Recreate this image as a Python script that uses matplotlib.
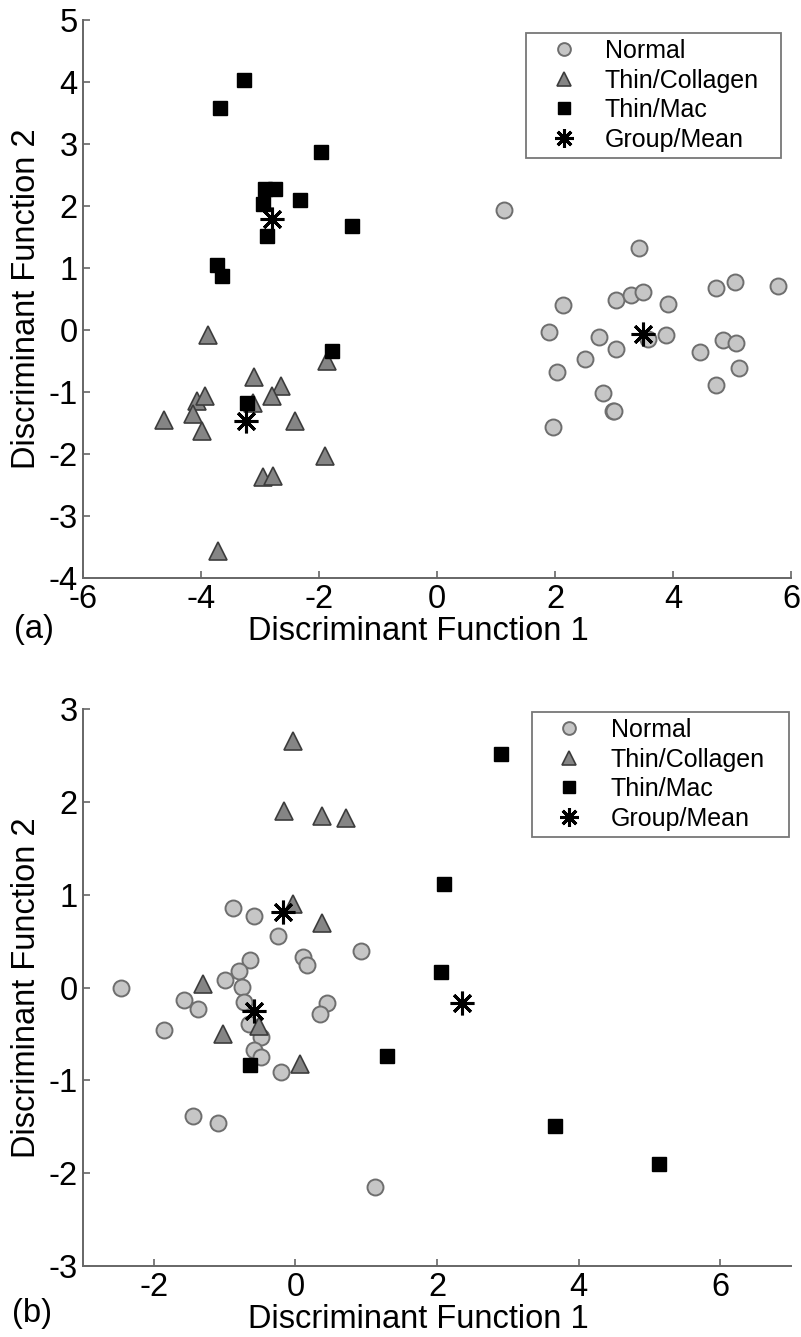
import matplotlib
matplotlib.use("Agg")
import matplotlib.pyplot as plt

plt.rcParams['font.family'] = ['Liberation Sans', 'DejaVu Sans']
plt.rcParams['axes.unicode_minus'] = False  # matlab style hyphen minus

# ---- panel (a) values ----
a_normal_x = [1.14, 3.42, 2.14, 3.03, 3.29, 3.49, 3.92, 4.73, 5.05, 5.78, 1.90, 2.75, 3.03,
              3.58, 3.88, 2.51, 4.46, 4.85, 5.07, 2.03, 5.12, 2.81, 4.73, 2.98, 3.00, 1.97]
a_normal_y = [1.94, 1.32, 0.41, 0.48, 0.56, 0.61, 0.42, 0.68, 0.77, 0.71, -0.03, -0.12, -0.31,
              -0.15, -0.08, -0.47, -0.36, -0.16, -0.21, -0.68, -0.62, -1.02, -0.89, -1.30, -1.31, -1.57]
a_coll_x = [-3.88, -1.86, -3.10, -2.64, -2.80, -4.07, -3.93, -3.12, -4.13, -4.63, -2.41, -3.98,
            -1.90, -2.95, -2.78, -3.71]
a_coll_y = [-0.08, -0.50, -0.76, -0.91, -1.07, -1.14, -1.06, -1.17, -1.36, -1.45, -1.47, -1.63,
            -2.03, -2.37, -2.35, -3.57]
a_mac_x = [-3.27, -3.68, -1.97, -2.92, -2.75, -2.95, -2.32, -2.88, -1.44, -3.73, -3.64, -1.78, -3.22]
a_mac_y = [4.03, 3.58, 2.87, 2.27, 2.27, 2.03, 2.10, 1.52, 1.67, 1.05, 0.87, -0.34, -1.17]
a_mean_x = [3.49, -3.24, -2.80]
a_mean_y = [-0.06, -1.46, 1.79]

# ---- panel (b) values ----
b_normal_x = [-0.88, -0.58, -0.25, 0.92, -0.64, 0.11, 0.17, -0.80, -0.99, -0.76, -2.46, -1.58, -1.38,
              -0.73, 0.45, 0.35, -0.65, -1.86, -0.49, -0.59, -0.49, -0.21, -1.44, -1.09, 1.12]
b_normal_y = [0.86, 0.77, 0.55, 0.39, 0.30, 0.33, 0.24, 0.18, 0.08, 0.01, 0.00, -0.13, -0.23,
              -0.16, -0.17, -0.29, -0.39, -0.46, -0.53, -0.67, -0.75, -0.91, -1.38, -1.46, -2.15]
b_coll_x = [-0.04, -0.16, 0.37, 0.72, -0.04, 0.38, -1.31, -1.02, -0.52, 0.07]
b_coll_y = [2.66, 1.90, 1.85, 1.83, 0.90, 0.70, 0.04, -0.50, -0.41, -0.82]
b_mac_x = [2.91, 2.10, 2.05, 1.30, 3.66, 5.13, -0.64]
b_mac_y = [2.52, 1.11, 0.17, -0.74, -1.49, -1.90, -0.84]
b_mean_x = [-0.59, -0.17, 2.36]
b_mean_y = [-0.25, 0.81, -0.17]

labels = ['Normal', 'Thin/Collagen', 'Thin/Mac', 'Group/Mean']

W, H = 801, 1337
FS = 23.5       # tick + axis label size
LEG_FS = 18
SPINE = '#666666'
STAR = (8, 2, 0)  # 8 armed asterisk like matlab '*'


def draw_panel(ax, nx, ny, cx, cy, mx, my, sx, sy):
    ax.plot(nx, ny, 'o', ms=11.5, mfc='#c6c6c6', mec='#6e6e6e', mew=1.4, ls='none', label=labels[0])
    ax.plot(cx, cy, '^', ms=13, mfc='#858585', mec='#3c3c3c', mew=1.2, ls='none', label=labels[1])
    ax.plot(mx, my, 's', ms=10.5, mfc='black', mec='black', ls='none', label=labels[2])
    ax.plot(sx, sy, marker=STAR, ms=17, mec='black', mew=2.2, ls='none', label=labels[3])

    for side in ['top', 'right']:
        ax.spines[side].set_visible(False)
    for side in ['left', 'bottom']:
        ax.spines[side].set_color(SPINE)
        ax.spines[side].set_linewidth(1.4)
    ax.tick_params(direction='in', length=5, width=1.2, color=SPINE, labelsize=FS, pad=4)
    ax.set_xlabel('Discriminant Function 1', fontsize=FS, va='baseline')
    ax.set_ylabel('Discriminant Function 2', fontsize=FS)


def main():
    fig = plt.figure(figsize=(W / 100, H / 100), dpi=100)

    # axes boxes in pixels: left 83, right 791
    ax_a = fig.add_axes([83 / W, (H - 578) / H, 708 / W, 558 / H])
    ax_b = fig.add_axes([83 / W, (H - 1266) / H, 708 / W, 557 / H])

    draw_panel(ax_a, a_normal_x, a_normal_y, a_coll_x, a_coll_y, a_mac_x, a_mac_y, a_mean_x, a_mean_y)
    ax_a.set_xlim(-6, 6)
    ax_a.set_ylim(-4, 5)
    ax_a.set_xticks(range(-6, 7, 2))
    ax_a.set_yticks(range(-4, 6))

    draw_panel(ax_b, b_normal_x, b_normal_y, b_coll_x, b_coll_y, b_mac_x, b_mac_y, b_mean_x, b_mean_y)
    ax_b.set_xlim(-3, 7)
    ax_b.set_ylim(-3, 3)
    ax_b.set_xticks(range(-2, 7, 2))
    ax_b.set_yticks(range(-3, 4))

    # legend boxes (x0, y0, w, h) in axes fraction
    leg_boxes = [(ax_a, (0.626, 0.760, 0.360, 0.217)), (ax_b, (0.634, 0.770, 0.363, 0.225))]
    for ax, box in leg_boxes:
        ax.xaxis.set_label_coords(0.473, -0.111)
        ax.yaxis.set_label_coords(-0.058, 0.5)
        leg = ax.legend(loc='upper left', bbox_to_anchor=box, mode='expand', fontsize=LEG_FS,
                        frameon=True, fancybox=False, edgecolor='#555555', borderaxespad=0,
                        labelspacing=0.22, handlelength=2.5, handletextpad=0.4, borderpad=0.25,
                        markerscale=0.8)
        leg.get_frame().set_linewidth(1.3)

    fig.text(14 / W, 1 - 638 / H, '(a)', fontsize=FS, va='baseline', ha='left')
    fig.text(12 / W, 1 - 1322 / H, '(b)', fontsize=FS, va='baseline', ha='left')

    fig.savefig('out.png', dpi=100)


if __name__ == '__main__':
    main()
